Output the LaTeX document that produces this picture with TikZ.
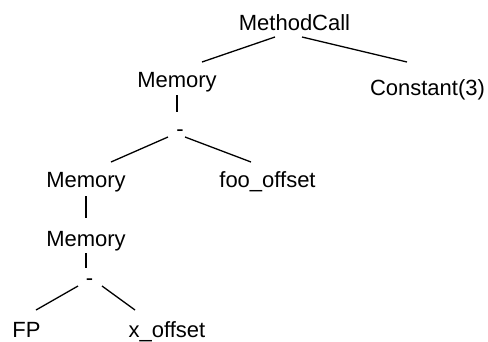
\documentclass[tikz,border=0pt]{standalone}
\usepackage{fontspec}
\setmainfont{Liberation Sans}
\usetikzlibrary{calc}
\begin{document}
\begin{tikzpicture}[x=1pt,y=-1pt,
  lbl/.style={font=\fontsize{22}{26}\selectfont, inner sep=0pt, anchor=base},
  edge/.style={line width=1.3pt, black}]
\useasboundingbox (0,0) rectangle (488,341);
\fill[white] (0,0) rectangle (488,341);

% tree nodes, placed by their baselines
\node[lbl] (mc) at (294.5,30) {MethodCall};
\node[lbl] (m1) at (177,87) {Memory};
\node[lbl] (c3) at (427.5,95) {Constant(3)};
\node[lbl] (s1) at (180,136) {-};
\node[lbl] (m2) at (86,187) {Memory};
\node[lbl] (foo) at (267.5,187) {foo\_offset};
\node[lbl] (m3) at (86,246) {Memory};
\node[lbl] (s2) at (89.5,285) {-};
\node[lbl] (fp) at (26.5,337) {FP};
\node[lbl] (xo) at (167,337) {x\_offset};

% connectors
\draw[edge] ($(mc.base)+(-19.5,7)$) -- ($(m1.base)+(25,-25)$);
\draw[edge] ($(mc.base)+(7.5,7)$) -- ($(c3.base)+(-20.5,-33)$);
\draw[edge] ($(m1.base)+(0,8)$) -- ($(s1.base)+(-3,-24)$);
\draw[edge] ($(s1.base)+(-12,1)$) -- ($(m2.base)+(25,-25)$);
\draw[edge] ($(s1.base)+(5,1)$) -- ($(foo.base)+(-16.5,-25)$);
\draw[edge] ($(m2.base)+(0,9)$) -- ($(m3.base)+(0,-28)$);
\draw[edge] ($(m3.base)+(0,7)$) -- ($(s2.base)+(-3.5,-17)$);
\draw[edge] ($(s2.base)+(-11.5,1)$) -- ($(fp.base)+(9.5,-27)$);
\draw[edge] ($(s2.base)+(12.5,1)$) -- ($(xo.base)+(-32,-27)$);
\end{tikzpicture}
\end{document}
